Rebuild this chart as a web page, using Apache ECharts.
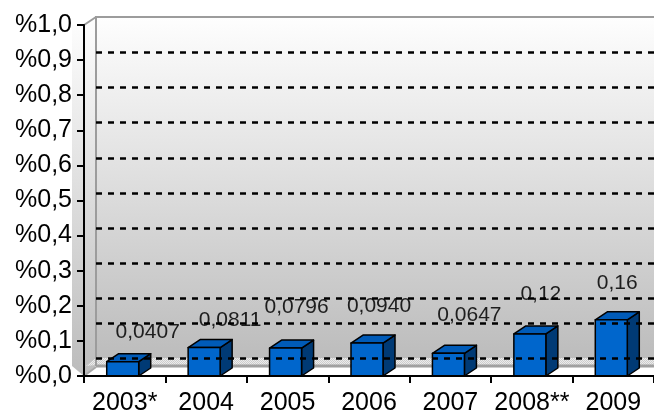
<!DOCTYPE html>
<html>
<head>
<meta charset="utf-8">
<script src="https://cdn.jsdelivr.net/npm/echarts@6/dist/echarts.min.js"></script>
<style>
  html, body { margin: 0; padding: 0; background: #fff; overflow: hidden; }
  #chart { width: 654px; height: 414px; }
</style>
</head>
<body>
<div id="chart"></div>
<script>
// Yearly ratio, one column per year
const categories = ['2003*', '2004', '2005', '2006', '2007', '2008**', '2009'];
const valueTexts = ['0,0407', '0,0811', '0,0796', '0,0940', '0,0647', '0,12', '0,16'];
const values = valueTexts.map(t => parseFloat(t.replace(',', '.')));
const yTickLabels = ['%0,0', '%0,1', '%0,2', '%0,3', '%0,4', '%0,5', '%0,6', '%0,7', '%0,8', '%0,9', '%1,0'];
// dashed guide lines drawn on the back wall (back-wall scale)
const wallLines = [0.9, 0.8, 0.7, 0.6, 0.5, 0.4, 0.3, 0.2, 0.13, 0.03];
// label placement relative to the top of each column: [dx, dy]
const labelShift = [[23, -30], [24, -27], [9, -41], [10, -37], [19, -38], [9, -40], [4, -37]];

const FONT = 'Liberation Sans, Arial, sans-serif';
const DEPTH_X = 12, DEPTH_Y = 8;

// small checker tile for the strip at the foot of the wall
function checkerTile() {
  const c = document.createElement('canvas');
  c.width = 2; c.height = 2;
  const g = c.getContext('2d');
  g.fillStyle = '#ececec'; g.fillRect(0, 0, 2, 2);
  g.fillStyle = '#cdcdcd'; g.fillRect(0, 0, 1, 1); g.fillRect(1, 1, 1, 1);
  return c;
}

const wallGradient = {
  type: 'linear', x: 0, y: 0, x2: 0, y2: 1,
  colorStops: [{ offset: 0, color: '#fefefe' }, { offset: 1, color: '#bcbcbc' }]
};

const chart = echarts.init(document.getElementById('chart'), null, { renderer: 'canvas' });

function renderColumn(params, api) {
  const i = api.value(0);
  const v = api.value(1);
  const top = api.coord([i, v]);
  const base = api.coord([i, 0]);
  const band = api.size([1, 0])[0];
  const w = band * 0.393;
  const x0 = top[0] - w / 2 - 2;
  const x1 = x0 + w;
  const yT = top[1];
  const yB = base[1];
  const edge = { stroke: '#000', lineWidth: 1.5, lineJoin: 'round' };
  const s = labelShift[params.dataIndex];
  return {
    type: 'group',
    children: [
      { type: 'polygon', shape: { points: [[x1, yT], [x1 + DEPTH_X, yT - DEPTH_Y], [x1 + DEPTH_X, yB - DEPTH_Y], [x1, yB]] },
        style: Object.assign({ fill: '#003a75' }, edge) },
      { type: 'polygon', shape: { points: [[x0, yT], [x1, yT], [x1 + DEPTH_X, yT - DEPTH_Y], [x0 + DEPTH_X, yT - DEPTH_Y]] },
        style: Object.assign({ fill: '#005bb8' }, edge) },
      { type: 'rect', shape: { x: x0, y: yT, width: w, height: yB - yT },
        style: Object.assign({ fill: '#0066cc' }, edge) },
      { type: 'text', x: top[0] + s[0], y: yT + s[1],
        style: { text: valueTexts[params.dataIndex], fill: '#1e1e1e', font: '21px ' + FONT,
                 align: 'center', verticalAlign: 'middle' } }
    ]
  };
}

const option = {
  animation: false,
  backgroundColor: '#ffffff',
  grid: [
    { left: 84, right: 0, top: 25, bottom: 38, containLabel: false, outerBoundsMode: 'none' },
    { left: 96, right: 0, top: 17, bottom: 45, containLabel: false, outerBoundsMode: 'none' }
  ],
  xAxis: [
    {
      gridIndex: 0, type: 'category', data: categories, z: 5,
      axisLine: { lineStyle: { color: '#000', width: 2 } },
      axisTick: { show: true, length: 7, lineStyle: { color: '#000', width: 2 } },
      axisLabel: { color: '#000', fontSize: 25, fontFamily: FONT, margin: 15, interval: 0,
                   hideOverlap: false },
      splitLine: { show: false }
    },
    {
      gridIndex: 1, type: 'category', data: categories, show: false
    }
  ],
  yAxis: [
    {
      gridIndex: 0, type: 'value', min: 0, max: 1, interval: 0.1, z: 5,
      axisLine: { show: true, lineStyle: { color: '#000', width: 2 } },
      axisTick: { show: true, length: 7, lineStyle: { color: '#000', width: 2 } },
      axisLabel: { color: '#000', fontSize: 25, fontFamily: FONT, margin: 12,
                   formatter: v => yTickLabels[Math.round(v * 10)] },
      splitLine: { show: false }
    },
    {
      gridIndex: 1, type: 'value', min: 0, max: 1, interval: 0.1, show: false,
      splitLine: { show: false }
    }
  ],
  graphic: [
    // side wall
    { type: 'polygon', z: -10, silent: true,
      shape: { points: [[72, 25], [84, 25], [96, 17], [96, 366], [84, 376], [72, 366]] },
      style: { fill: wallGradient } },
    // back wall
    { type: 'rect', z: -10, silent: true, shape: { x: 96, y: 17, width: 558, height: 342 },
      style: { fill: wallGradient } },
    // strip at the foot of the wall
    { type: 'polygon', z: -9, silent: true,
      shape: { points: [[86, 366], [96, 358], [654, 358], [654, 365], [96, 365]] },
      style: { fill: { image: checkerTile(), repeat: 'repeat' } } },
    // floor
    { type: 'polygon', z: -9, silent: true,
      shape: { points: [[84, 376], [96, 367], [654, 367], [654, 376]] },
      style: { fill: '#ffffff' } },
    { type: 'line', z: -8, silent: true, shape: { x1: 96, y1: 366, x2: 654, y2: 366 },
      style: { stroke: '#a0a0a0', lineWidth: 3 } },
    { type: 'line', z: -8, silent: true, shape: { x1: 84, y1: 376, x2: 96, y2: 367 },
      style: { stroke: '#a8a8a8', lineWidth: 2 } },
    // wall edges
    { type: 'line', z: -8, silent: true, shape: { x1: 96, y1: 17, x2: 96, y2: 366 },
      style: { stroke: '#9c9c9c', lineWidth: 2 } },
    { type: 'line', z: -8, silent: true, shape: { x1: 95, y1: 17, x2: 654, y2: 17 },
      style: { stroke: '#9c9c9c', lineWidth: 2 } },
    { type: 'line', z: -8, silent: true, shape: { x1: 84, y1: 25, x2: 96, y2: 17 },
      style: { stroke: '#9c9c9c', lineWidth: 2 } }
  ],
  series: [
    {
      type: 'custom', xAxisIndex: 1, yAxisIndex: 1, silent: true, z: 1,
      renderItem: () => ({ type: 'group', children: [] }),
      data: [],
      markLine: {
        silent: true, symbol: 'none', animation: false,
        label: { show: false },
        lineStyle: { color: '#000', width: 2.5, type: [6, 6] },
        data: wallLines.map(v => ({ yAxis: v }))
      }
    },
    {
      type: 'custom', xAxisIndex: 0, yAxisIndex: 0, z: 3,
      renderItem: renderColumn,
      data: values.map((v, i) => [i, v])
    }
  ]
};

chart.setOption(option);
</script>
</body>
</html>
